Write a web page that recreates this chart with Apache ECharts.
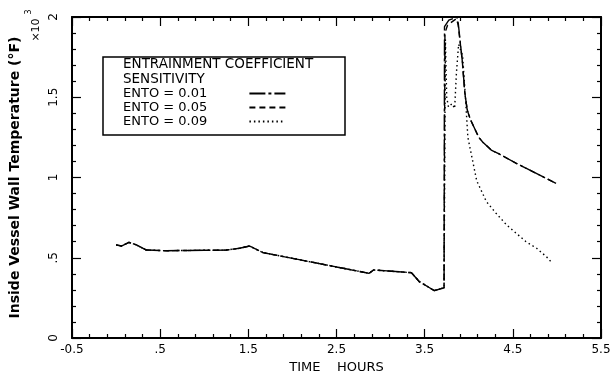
<!DOCTYPE html>
<html>
<head>
<meta charset="utf-8">
<script src="https://cdn.jsdelivr.net/npm/echarts@6/dist/echarts.min.js"></script>
<style>html,body{margin:0;padding:0;background:#fff}#c{width:613px;height:374px}</style>
</head>
<body>
<div id="c"></div>
<script>
// ---- data (time in hours, temperature in 10^3 °F) ----
const common = [[0.00,0.58],[0.06,0.573],[0.146,0.596],[0.23,0.58],[0.344,0.548],[0.57,0.544],[1.25,0.548],[1.40,0.559],[1.515,0.573],[1.666,0.532],[2.87,0.403],[2.92,0.424],[3.35,0.407],[3.44,0.351],[3.61,0.295],[3.72,0.313]];
const ento01 = [[3.725,1.94],[3.774,1.98],[3.865,2.0],[3.881,1.96],[3.926,1.73],[3.956,1.525],[3.983,1.42],[4.02,1.36],[4.114,1.25],[4.16,1.22],[4.255,1.171],[4.35,1.145],[4.54,1.088],[4.80,1.016],[4.99,0.964]];
const ento05 = [[3.73,1.90],[3.76,1.95],[3.86,1.99],[3.88,1.95],[3.926,1.73],[3.956,1.525],[3.983,1.42],[4.02,1.36],[4.114,1.25],[4.16,1.22],[4.255,1.171],[4.35,1.145],[4.54,1.088],[4.80,1.016],[4.99,0.964]];
const ento09 = [[3.735,1.86],[3.75,1.50],[3.77,1.44],[3.81,1.46],[3.84,1.43],[3.86,1.65],[3.885,1.83],[3.93,1.76],[3.96,1.52],[3.99,1.25],[4.09,0.98],[4.20,0.85],[4.31,0.777],[4.43,0.704],[4.54,0.652],[4.65,0.60],[4.77,0.559],[4.88,0.507],[4.95,0.465]];
const seriesNames = ['ENTO = 0.01','ENTO = 0.05','ENTO = 0.09'];
const xMajor = [-0.5,0.5,1.5,2.5,3.5,4.5,5.5];
const xTickLabels = ['-0.5','.5','1.5','2.5','3.5','4.5','5.5'];
const xMinor = [-0.3,-0.1,0.1,0.3,0.7,0.9,1.1,1.3,1.7,1.9,2.1,2.3,2.7,2.9,3.1,3.3,3.7,3.9,4.1,4.3,4.7,4.9,5.1,5.3];
const yTickLabels = ['0','.5','1','1.5','2'];
const legendTitle = ['ENTRAINMENT COEFFICIENT','SENSITIVITY'];

const FONT = 'DejaVu Sans';
const W = 613, H = 374, GL = 72, GR = 12, GT = 17, GB = 36;
const GW = W - GL - GR, GH = H - GT - GB;
const chart = echarts.init(document.getElementById('c'), null, {renderer:'canvas'});
function gridPos(){ return {left:GL, right:GR, top:GT, bottom:GB, containLabel:false, outerBoundsMode:'none'}; }
function tickStyle(){ return {color:'#000', width:1.2}; }

// main axes: lines, labels, names (no ticks)
function mainX(position, labels){
  const a = {type:'value', gridIndex:0, position, min:-0.5, max:5.5,
    axisLine:{show:true, onZero:false, lineStyle:{color:'#000', width:2}},
    splitLine:{show:false}, axisTick:{show:false}, axisLabel:{show:false}};
  if (labels) {
    a.axisLabel = {show:true, customValues:xMajor.slice(), margin:6, color:'#000', fontFamily:FONT, fontSize:12,
      formatter:(v)=>{const i=xMajor.findIndex(m=>Math.abs(m-v)<1e-6); return i>=0?xTickLabels[i]:'';}};
    a.name = 'TIME    HOURS'; a.nameLocation = 'middle'; a.nameGap = 22;
    a.nameTextStyle = {color:'#000', fontFamily:FONT, fontSize:13};
  }
  return a;
}
function mainY(position, labels){
  const a = {type:'value', gridIndex:0, position, min:0, max:2, interval:0.5,
    axisLine:{show:true, onZero:false, lineStyle:{color:'#000', width:2}},
    splitLine:{show:false}, axisTick:{show:false}, minorTick:{show:false}, axisLabel:{show:false}};
  if (labels) {
    a.axisLabel = {show:true, rotate:90, margin:12, color:'#000', fontFamily:FONT, fontSize:12,
      formatter:(v)=>yTickLabels[Math.round(v/0.5)]};
    a.name = 'Inside Vessel Wall Temperature (\u00B0F)'; a.nameLocation = 'middle'; a.nameGap = 50; a.nameRotate = 90;
    a.nameTextStyle = {color:'#000', fontFamily:FONT, fontWeight:'bold', fontSize:14};
  }
  return a;
}
// tick-only axes placed on the opposite edge so outward ticks point into the plot
function tickX(gridIndex, position, ticks, len){
  return {type:'value', gridIndex, position, offset:-GH, min:-0.5, max:5.5,
    axisLine:{show:false, onZero:false}, splitLine:{show:false}, axisLabel:{show:false},
    axisTick:{show:true, inside:false, length:len, customValues:ticks.slice(), lineStyle:tickStyle()}};
}
function tickY(gridIndex, position, show){
  return {type:'value', gridIndex, position, offset:-GW, min:0, max:2, interval:0.5, show,
    axisLine:{show:false, onZero:false}, splitLine:{show:false}, axisLabel:{show:false},
    axisTick:{show:true, inside:false, length:9, lineStyle:tickStyle()},
    minorTick:{show:true, splitNumber:5, length:4, lineStyle:tickStyle()}};
}
const lineStyles = [
  {type:[16,3,3,3], width:1.4},
  {type:[6,4], width:1.4},
  {type:[1.5,3], width:1.4}
];
const datas = [common.concat(ento01), common.concat(ento05), common.concat(ento09)];
chart.setOption({
  animation:false,
  backgroundColor:'#fff',
  grid:[gridPos(), gridPos(), gridPos()],
  xAxis:[
    mainX('bottom', true),
    mainX('top', false),
    tickX(1, 'top', xMajor, 9),     // sits on bottom edge, ticks up
    tickX(1, 'bottom', xMajor, 9),  // sits on top edge, ticks down
    tickX(2, 'top', xMinor, 4),
    tickX(2, 'bottom', xMinor, 4)
  ],
  yAxis:[
    mainY('left', true),
    mainY('right', false),
    tickY(1, 'right', true),        // sits on left edge, ticks right
    tickY(1, 'left', true),         // sits on right edge, ticks left
    {type:'value', gridIndex:2, min:0, max:2, show:false}
  ],
  legend:{
    show:true, orient:'vertical', left:123, top:87, padding:0, itemGap:1, itemHeight:14, itemWidth:36,
    align:'right', data:seriesNames,
    formatter:(n)=>n+'         ',
    itemStyle:{color:'rgba(0,0,0,0)', borderWidth:0, opacity:0},
    textStyle:{color:'#000', fontFamily:FONT, fontSize:13}
  },
  graphic:[
    {type:'rect', shape:{x:103, y:57, width:242, height:78}, style:{fill:'none', stroke:'#000', lineWidth:1.5}},
    {type:'text', x:123, y:64, style:{text:legendTitle[0], fill:'#000', font:'13.5px "DejaVu Sans"', verticalAlign:'middle'}},
    {type:'text', x:123, y:79, style:{text:legendTitle[1], fill:'#000', font:'13.5px "DejaVu Sans"', verticalAlign:'middle'}},
    {type:'text', x:36, y:30, rotation:Math.PI/2, style:{text:'\u00D710', fill:'#000', font:'11px "DejaVu Sans"', align:'center', verticalAlign:'middle'}},
    {type:'text', x:29, y:12, rotation:Math.PI/2, style:{text:'3', fill:'#000', font:'8px "DejaVu Sans"', align:'center', verticalAlign:'middle'}}
  ],
  series: seriesNames.map((n,i)=>({
    name:n, type:'line', xAxisIndex:0, yAxisIndex:0, data:datas[i],
    showSymbol:false, symbol:'none', smooth:false,
    lineStyle:Object.assign({color:'#000'}, lineStyles[i]), itemStyle:{color:'#000'}
  }))
});
</script>
</body>
</html>
